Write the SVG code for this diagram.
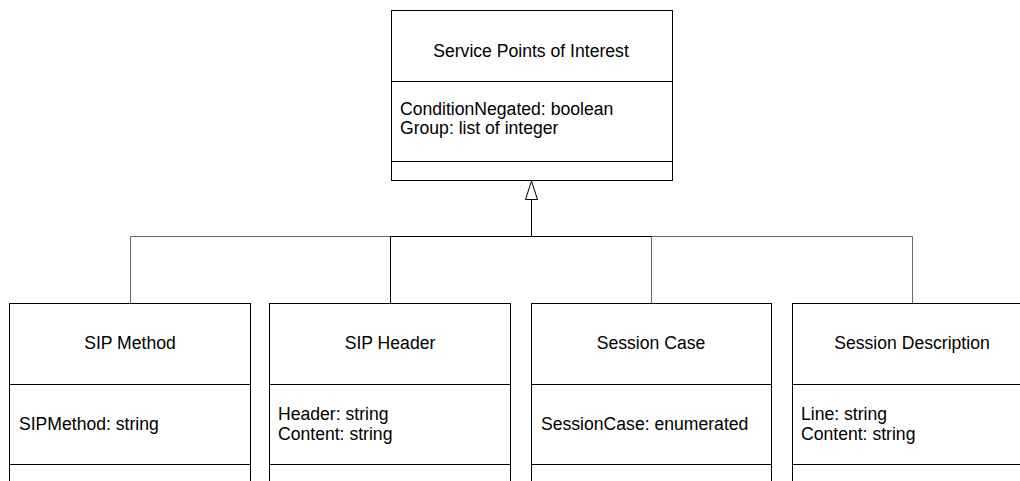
<svg xmlns="http://www.w3.org/2000/svg" width="1020" height="481" viewBox="0 0 1020 481">
<style>
.box{fill:#fff;stroke:#000;stroke-width:1}
.div{stroke:#000;stroke-width:1}
.t{font-family:"Liberation Sans",Arial,sans-serif;font-size:17.6px;fill:#000}
.c{text-anchor:middle}
.con{fill:none;stroke:#000;stroke-width:1}
.con2{fill:none;stroke:#666;stroke-width:1}
</style>
<rect width="1020" height="481" fill="#fff"/>
<g id="connectors">
<polyline class="con2" points="130.5,303.5 130.5,236.5 390.5,236.5"/>
<polyline class="con2" points="651.5,303.5 651.5,236.5 912.5,236.5 912.5,303.5"/>
<line class="con" x1="390.5" y1="236.5" x2="651.5" y2="236.5"/>
<line class="con" x1="390.5" y1="236.5" x2="390.5" y2="303.5"/>
<line class="con" x1="531.5" y1="199.5" x2="531.5" y2="236.5"/>
<polygon points="531.5,181 525.5,199.5 537.5,199.5" fill="#fff" stroke="#000" stroke-width="1"/>
</g>
<g id="service-points">
<rect class="box" x="391.5" y="10.5" width="281" height="170"/>
<line class="div" x1="391.5" y1="81.5" x2="672.5" y2="81.5"/>
<line class="div" x1="391.5" y1="161.5" x2="672.5" y2="161.5"/>
<text class="t c" x="531" y="57">Service Points of Interest</text>
<text class="t" x="400" y="115">ConditionNegated: boolean</text>
<text class="t" x="400" y="134">Group: list of integer</text>
</g>
<g id="sip-method">
<rect class="box" x="9.5" y="303.5" width="241" height="200"/>
<line class="div" x1="9.5" y1="384.5" x2="250.5" y2="384.5"/>
<line class="div" x1="9.5" y1="464.5" x2="250.5" y2="464.5"/>
<text class="t c" x="130" y="349">SIP Method</text>
<text class="t" x="19" y="430">SIPMethod: string</text>
</g>
<g id="sip-header">
<rect class="box" x="269.5" y="303.5" width="241" height="200"/>
<line class="div" x1="269.5" y1="384.5" x2="510.5" y2="384.5"/>
<line class="div" x1="269.5" y1="464.5" x2="510.5" y2="464.5"/>
<text class="t c" x="390" y="349">SIP Header</text>
<text class="t" x="278" y="420">Header: string</text>
<text class="t" x="278" y="440">Content: string</text>
</g>
<g id="session-case">
<rect class="box" x="531.5" y="303.5" width="240" height="200"/>
<line class="div" x1="531.5" y1="384.5" x2="771.5" y2="384.5"/>
<line class="div" x1="531.5" y1="464.5" x2="771.5" y2="464.5"/>
<text class="t c" x="651" y="349">Session Case</text>
<text class="t" x="541" y="430">SessionCase: enumerated</text>
</g>
<g id="session-description">
<rect class="box" x="792.5" y="303.5" width="241" height="200"/>
<line class="div" x1="792.5" y1="384.5" x2="1033.5" y2="384.5"/>
<line class="div" x1="792.5" y1="464.5" x2="1033.5" y2="464.5"/>
<text class="t c" x="912" y="349">Session Description</text>
<text class="t" x="801" y="420">Line: string</text>
<text class="t" x="801" y="440">Content: string</text>
</g>
</svg>
